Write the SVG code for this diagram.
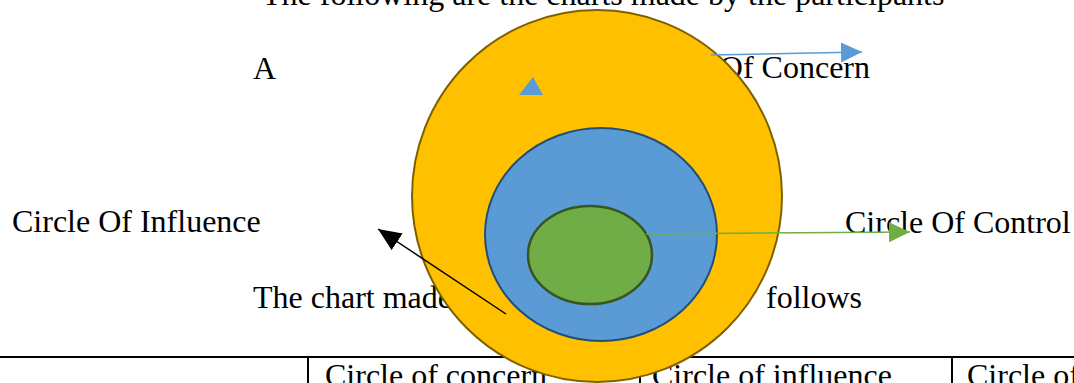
<svg xmlns="http://www.w3.org/2000/svg" width="1074" height="383" viewBox="0 0 1074 383">
<style>
  .t { font-family: "Liberation Serif", "Times New Roman", serif; font-size: 32px; fill: #000; }
  .rule { stroke: #000; stroke-width: 2; fill: none; }
</style>
<defs>
  <marker id="mBlue" markerUnits="userSpaceOnUse" markerWidth="22" markerHeight="22" refX="21" refY="10" orient="auto">
    <path d="M0,0 L21,10 L0,20 Z" fill="#5b9bd5"/>
  </marker>
  <marker id="mGreen" markerUnits="userSpaceOnUse" markerWidth="22" markerHeight="22" refX="21" refY="10" orient="auto">
    <path d="M0,0 L21,10 L0,20 Z" fill="#70ad47"/>
  </marker>
  <marker id="mBlack" markerUnits="userSpaceOnUse" markerWidth="24" markerHeight="22" refX="23" refY="10" orient="auto">
    <path d="M0,0 L23,10 L0,20 Z" fill="#000"/>
  </marker>
</defs>
<rect width="1074" height="383" fill="#fff"/>
<g id="texts">
  <text class="t" x="262" y="5">The following are the charts made by the participants</text>
  <text class="t" x="253" y="79">A</text>
  <text class="t" x="870" y="78" text-anchor="end">Of Concern</text>
  <text class="t" x="12" y="232">Circle Of Influence</text>
  <text class="t" x="845" y="233">Circle Of Control</text>
  <text class="t" x="253" y="308">The chart made</text>
  <text class="t" x="862" y="308" text-anchor="end">follows</text>
</g>
<g id="table">
  <line class="rule" x1="0" y1="357" x2="1074" y2="357"/>
  <line class="rule" x1="308" y1="357" x2="308" y2="383"/>
  <line class="rule" x1="640" y1="357" x2="640" y2="383"/>
  <line class="rule" x1="952" y1="357" x2="952" y2="383"/>
  <text class="t" x="325" y="386">Circle of concern</text>
  <text class="t" x="652" y="386">Circle of influence</text>
  <text class="t" x="967" y="386">Circle of</text>
</g>
<g id="concern">
  <ellipse cx="597" cy="196" rx="185" ry="186" fill="#ffc000" stroke="#7f6000" stroke-width="2"/>
</g>
<g id="influence">
  <ellipse cx="601" cy="234.5" rx="116" ry="106.5" fill="#5b9bd5" stroke="#1f4e79" stroke-width="2"/>
</g>
<g id="control">
  <ellipse cx="590" cy="255" rx="62" ry="49" fill="#70ad47" stroke="#375623" stroke-width="2.5"/>
</g>
<g id="connectors">
  <path d="M519,95 L533,77 L543,95 Z" fill="#5b9bd5"/>
  <line x1="711" y1="55" x2="862" y2="52" stroke="#5b9bd5" stroke-width="1.5" marker-end="url(#mBlue)"/>
  <line x1="646" y1="234" x2="910" y2="232" stroke="#70ad47" stroke-width="1.5" marker-end="url(#mGreen)"/>
  <line x1="506" y1="314" x2="378" y2="229" stroke="#000" stroke-width="1.5" marker-end="url(#mBlack)"/>
</g>
</svg>
